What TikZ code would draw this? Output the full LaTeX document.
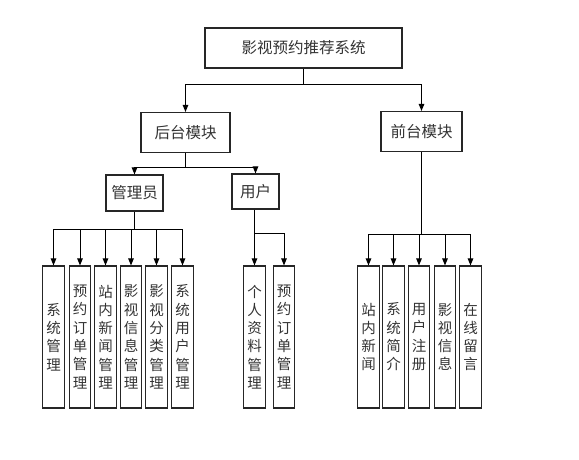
\documentclass[tikz,border=0pt]{standalone}
\usepackage{fontspec}
\newfontfamily\cjk{Noto Sans CJK SC}
\usetikzlibrary{arrows.meta}
\begin{document}
\begin{tikzpicture}[x=1pt,y=-1pt,
  box/.style={draw=black!85,line width=1.1pt,inner sep=0pt,font=\cjk\fontsize{15.5}{18}\selectfont,text=black!80},
  tall/.style={box,minimum width=21.5pt,minimum height=142pt,align=center,font=\cjk\fontsize{14.5}{18.3}\selectfont},
  link/.style={line width=1pt,draw=black},
  arr/.style={link,-{Triangle[width=5.5pt,length=7pt]}}]
\useasboundingbox (0,0) rectangle (579,460);
\node[box,minimum width=197pt,minimum height=40pt] (sys) at (303.5,48) {影视预约推荐系统};
\node[box,minimum width=89pt,minimum height=40pt] (back) at (185.5,132.5) {后台模块};
\node[box,minimum width=81pt,minimum height=40pt] (front) at (421.5,131.5) {前台模块};
\node[box,minimum width=57pt,minimum height=36pt] (admin) at (134.5,193) {管理员};
\node[box,minimum width=47pt,minimum height=35pt] (user) at (255.5,191.5) {用户};
% admin children
\node[tall] (a1) at (53.5,337) {系\\统\\管\\理};
\node[tall] (a2) at (80,337) {预\\约\\订\\单\\管\\理};
\node[tall] (a3) at (105.5,337) {站\\内\\新\\闻\\管\\理};
\node[tall] (a4) at (131,337) {影\\视\\信\\息\\管\\理};
\node[tall] (a5) at (156.5,337) {影\\视\\分\\类\\管\\理};
\node[tall] (a6) at (182.5,337) {系\\统\\用\\户\\管\\理};
% user children
\node[tall] (u1) at (254.5,337) {个\\人\\资\\料\\管\\理};
\node[tall] (u2) at (284,337) {预\\约\\订\\单\\管\\理};
% front children
\node[tall] (f1) at (368.5,337) {站\\内\\新\\闻};
\node[tall] (f2) at (393.5,337) {系\\统\\简\\介};
\node[tall] (f3) at (419,337) {用\\户\\注\\册};
\node[tall] (f4) at (445,337) {影\\视\\信\\息};
\node[tall] (f5) at (470.5,337) {在\\线\\留\\言};
% junctions
\coordinate (j0) at (303.5,85);
\coordinate (j1) at (185.5,167);
\coordinate (j2) at (134.5,229);
\coordinate (j3) at (254.5,233);
\coordinate (j4) at (421.5,234);
\draw[link] (sys.south) -- (j0);
\draw[arr] (j0) -| (back.north);
\draw[arr] (j0) -| (front.north);
\draw[link] (back.south) -- (j1);
\draw[arr] (j1) -| (admin.north);
\draw[arr] (j1) -| (user.north);
\draw[link] (admin.south) -- (j2);
\foreach \n in {a1,a2,a3,a4,a5,a6} \draw[arr] (j2) -| (\n.north);
\draw[link] (user.south -| j3) -- (j3);
\foreach \n in {u1,u2} \draw[arr] (j3) -| (\n.north);
\draw[link] (front.south) -- (j4);
\foreach \n in {f1,f2,f3,f4,f5} \draw[arr] (j4) -| (\n.north);
\end{tikzpicture}
\end{document}
